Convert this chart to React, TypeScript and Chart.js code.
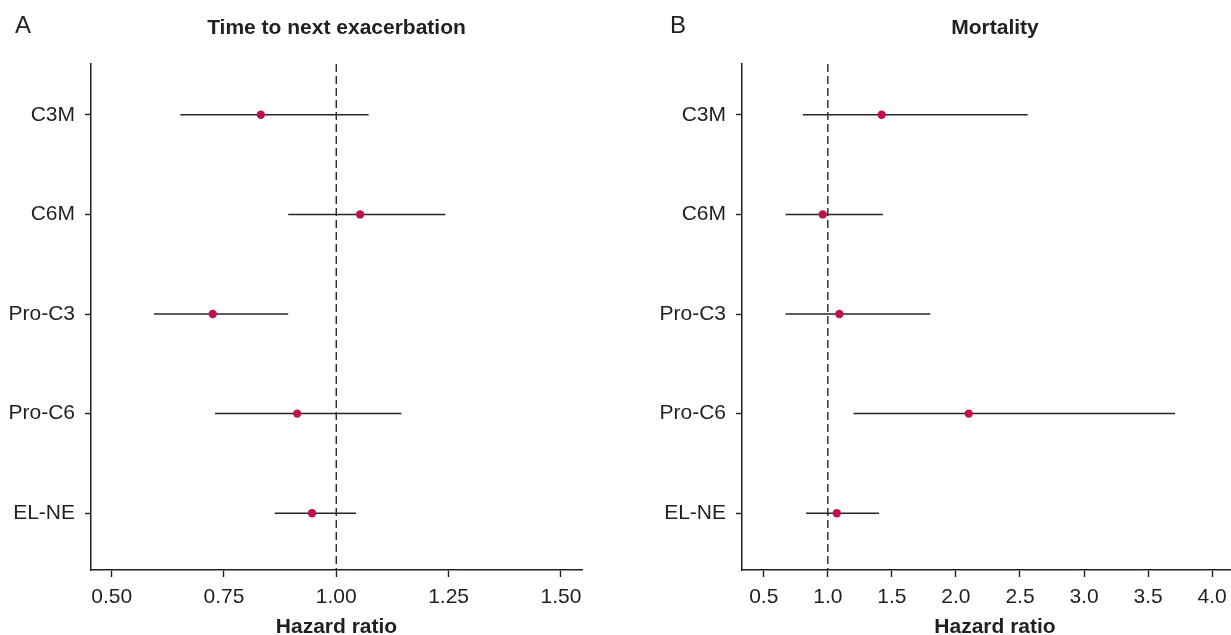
import React, { useEffect, useRef } from "react";
import { Chart, registerables } from "chart.js";

Chart.register(...registerables);

// ---- Data ----
const categories = ["C3M", "C6M", "Pro-C3", "Pro-C6", "EL-NE"];

// Panel A: Time to next exacerbation (hazard ratio, 95% CI)
const timeHR = [0.832, 1.053, 0.725, 0.913, 0.946];
const timeLow = [0.653, 0.893, 0.594, 0.73, 0.863];
const timeHigh = [1.072, 1.243, 0.893, 1.145, 1.044];
const timeTicks = [0.5, 0.75, 1.0, 1.25, 1.5];

// Panel B: Mortality (hazard ratio, 95% CI)
const mortHR = [1.42, 0.96, 1.09, 2.1, 1.07];
const mortLow = [0.805, 0.67, 0.67, 1.2, 0.83];
const mortHigh = [2.56, 1.43, 1.8, 3.71, 1.4];
const mortTicks = [0.5, 1.0, 1.5, 2.0, 2.5, 3.0, 3.5, 4.0];

const referenceHR = 1;

const FONT = '"Liberation Sans", Arial, Helvetica, sans-serif';
const INK = "#231F20";
const LINE = "#262626";
const DOT = "#BE1250";

const headerPlugin = {
  id: "header",
  afterDraw(chart: any, _args: any, opts: any) {
    const { ctx, chartArea } = chart;
    ctx.save();
    ctx.fillStyle = INK;
    ctx.textBaseline = "alphabetic";
    ctx.textAlign = "left";
    ctx.font = `24px ${FONT}`;
    ctx.fillText(opts.letter, opts.letterX, 33);
    ctx.textAlign = "center";
    ctx.font = `bold 21px ${FONT}`;
    ctx.fillText(opts.title, (chartArea.left + chartArea.right) / 2, 34);
    ctx.restore();
  },
};

type PanelProps = {
  letter: string;
  letterX: number;
  title: string;
  est: number[];
  low: number[];
  high: number[];
  xTicks: number[];
  xMin: number;
  xMax: number;
  decimals: number;
  left: number;
  width: number;
  yAxisWidth: number;
  rightPad: number;
};

const Y_MIN = -0.51;
const Y_MAX = 4.57;

function Panel(p: PanelProps) {
  const ref = useRef<HTMLCanvasElement | null>(null);
  useEffect(() => {
    if (!ref.current) return;
    const ciSets = categories.map((c, i) => ({
      label: c + " CI",
      data: [
        { x: p.low[i], y: i },
        { x: p.high[i], y: i },
      ],
      showLine: true,
      borderColor: LINE,
      borderWidth: 1.5,
      pointRadius: 0,
      order: 2,
    }));
    const chart = new Chart(ref.current, {
      type: "scatter",
      data: {
        datasets: [
          {
            label: "HR",
            data: p.est.map((x, i) => ({ x, y: i })),
            pointRadius: 4.2,
            pointBackgroundColor: DOT,
            pointBorderWidth: 0,
            order: 0,
          },
          ...ciSets,
          {
            label: "ref",
            data: [
              { x: referenceHR, y: Y_MIN },
              { x: referenceHR, y: Y_MAX },
            ],
            showLine: true,
            borderColor: LINE,
            borderWidth: 1.4,
            borderDash: [8, 4],
            pointRadius: 0,
            order: 3,
          },
        ] as any,
      },
      options: {
        animation: false,
        responsive: false,
        devicePixelRatio: 1,
        layout: { padding: { top: 64, right: p.rightPad, left: 0, bottom: 0 } },
        plugins: {
          legend: { display: false },
          tooltip: { enabled: false },
          header: { letter: p.letter, letterX: p.letterX, title: p.title },
        } as any,
        scales: {
          x: {
            type: "linear",
            min: p.xMin,
            max: p.xMax,
            afterBuildTicks: (s: any) => {
              s.ticks = p.xTicks.map((v) => ({ value: v }));
            },
            afterFit: (s: any) => {
              s.height = 65;
            },
            grid: {
              drawOnChartArea: false,
              drawTicks: true,
              tickLength: 7,
              tickColor: INK,
              tickWidth: 1.4,
            },
            border: { display: true, color: INK, width: 1.5 },
            ticks: {
              padding: 8,
              color: INK,
              font: { family: FONT, size: 21 },
              autoSkip: false,
              maxRotation: 0,
              callback: (v: any) => Number(v).toFixed(p.decimals),
            },
            title: {
              display: true,
              text: "Hazard ratio",
              color: INK,
              font: { family: FONT, size: 21, weight: "bold", lineHeight: 1 },
              padding: { top: 0, bottom: -3 },
            },
          },
          y: {
            type: "linear",
            min: Y_MIN,
            max: Y_MAX,
            reverse: true,
            afterBuildTicks: (s: any) => {
              s.ticks = categories.map((_, i) => ({ value: i }));
            },
            afterFit: (s: any) => {
              s.width = p.yAxisWidth;
            },
            grid: {
              drawOnChartArea: false,
              drawTicks: true,
              tickLength: 6,
              tickColor: INK,
              tickWidth: 1.4,
            },
            border: { display: true, color: INK, width: 1.5 },
            ticks: {
              padding: 10,
              color: INK,
              font: { family: FONT, size: 21 },
              autoSkip: false,
              callback: (v: any) => categories[Math.round(Number(v))] ?? "",
            },
          },
        },
      },
      plugins: [headerPlugin as any],
    });
    return () => chart.destroy();
  }, []);
  return (
    <canvas
      ref={ref}
      width={p.width}
      height={635}
      style={{ position: "absolute", left: p.left, top: 0, width: p.width, height: 635 }}
    />
  );
}

export default function App() {
  return (
    <div
      style={{
        position: "fixed",
        left: 0,
        top: 0,
        width: 1231,
        height: 635,
        overflow: "hidden",
        background: "#fff",
      }}
    >
      <Panel
        letter="A"
        letterX={15}
        title="Time to next exacerbation"
        est={timeHR}
        low={timeLow}
        high={timeHigh}
        xTicks={timeTicks}
        xMin={0.454}
        xMax={1.547}
        decimals={2}
        left={0}
        width={615}
        yAxisWidth={91}
        rightPad={33}
      />
      <Panel
        letter="B"
        letterX={55}
        title="Mortality"
        est={mortHR}
        low={mortLow}
        high={mortHigh}
        xTicks={mortTicks}
        xMin={0.33}
        xMax={4.28}
        decimals={1}
        left={615}
        width={640}
        yAxisWidth={127}
        rightPad={7}
      />
    </div>
  );
}
